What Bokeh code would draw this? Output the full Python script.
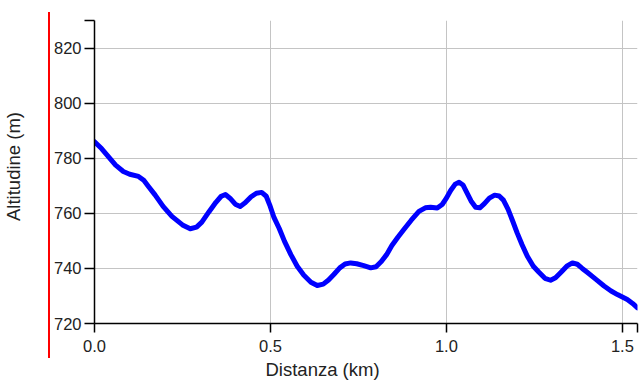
import math
from bokeh.plotting import figure
from bokeh.layouts import row
from bokeh.models import Range1d, FixedTicker, Title, PrintfTickFormatter, Div
from bokeh.core.properties import value
from bokeh.embed import file_html
from bokeh.resources import INLINE

# Elevation profile
distance_km = [0.000, 0.020, 0.040, 0.060, 0.082, 0.100, 0.125, 0.140, 0.155, 0.172,
               0.195, 0.220, 0.250, 0.272, 0.290, 0.305, 0.325, 0.345, 0.360, 0.372,
               0.385, 0.400, 0.414, 0.428, 0.445, 0.460, 0.475, 0.488, 0.498, 0.510,
               0.525, 0.540, 0.558, 0.576, 0.595, 0.615, 0.633, 0.650, 0.665, 0.680,
               0.697, 0.712, 0.728, 0.745, 0.765, 0.785, 0.800, 0.815, 0.830, 0.845,
               0.862, 0.879, 0.900, 0.922, 0.940, 0.955, 0.974, 0.988, 1.000, 1.012,
               1.025, 1.036, 1.047, 1.057, 1.070, 1.083, 1.095, 1.108, 1.122, 1.137,
               1.150, 1.162, 1.175, 1.188, 1.201, 1.215, 1.230, 1.247, 1.263, 1.280,
               1.296, 1.310, 1.325, 1.342, 1.358, 1.372, 1.386, 1.400, 1.425, 1.448,
               1.468, 1.486, 1.500, 1.514, 1.530, 1.543]
altitude_m = [786.0, 783.5, 780.5, 777.5, 775.2, 774.2, 773.4, 772.0, 769.5, 766.7,
              762.5, 758.9, 755.8, 754.4, 755.0, 756.8, 760.5, 764.0, 766.2, 766.8,
              765.5, 763.3, 762.5, 763.8, 766.0, 767.3, 767.6, 766.2, 763.0, 758.5,
              754.5, 749.8, 745.0, 740.8, 737.5, 735.0, 733.8, 734.3, 735.8, 737.8,
              740.2, 741.6, 742.0, 741.7, 741.0, 740.2, 740.6, 742.5, 745.0, 748.3,
              751.3, 754.1, 757.5, 760.7, 762.0, 762.2, 761.9, 763.2, 765.5, 768.3,
              770.6, 771.3, 770.3, 767.8, 764.5, 762.2, 762.0, 763.5, 765.5, 766.6,
              766.3, 764.8, 761.5, 757.3, 752.9, 748.6, 744.4, 740.8, 738.6, 736.4,
              735.7, 736.6, 738.5, 740.8, 742.0, 741.5, 740.0, 738.6, 736.0, 733.6,
              731.8, 730.5, 729.6, 728.7, 727.2, 725.7]

x_ticks = [0.0, 0.5, 1.0, 1.5, 1.543]
x_tick_labels = {1.543: ""}
y_ticks = [720, 740, 760, 780, 800, 820, 830]
y_tick_labels = {830: ""}

FONT = "Liberation Sans"
TXT = "#222222"

# ---- main chart ----
p = figure(width=590, height=384,
           x_range=Range1d(0, 1.543), y_range=Range1d(720, 830),
           output_backend="svg", toolbar_location=None,
           min_border_left=41, min_border_right=3,
           min_border_top=20, min_border_bottom=60)
p.outline_line_color = None

p.line(distance_km, altitude_m, line_color="#0000ff", line_width=5,
       line_join="round", line_cap="round")

p.xaxis.ticker = FixedTicker(ticks=x_ticks)
p.xaxis.formatter = PrintfTickFormatter(format="%.1f")
p.xaxis.major_label_overrides = x_tick_labels
p.yaxis.ticker = FixedTicker(ticks=y_ticks)
p.yaxis.major_label_overrides = y_tick_labels
for ax in (p.xaxis[0], p.yaxis[0]):
    ax.axis_line_color = "black"
    ax.axis_line_width = 1.5
    ax.major_tick_line_color = "black"
    ax.major_tick_line_width = 1.5
    ax.major_tick_in = 0
    ax.minor_tick_line_color = None
    ax.major_label_text_font = FONT
    ax.major_label_text_font_size = "16.5px"
    ax.major_label_text_color = TXT
p.yaxis.major_tick_out = 10
p.xaxis.major_tick_out = 9
p.yaxis.major_label_standoff = 3
p.xaxis.major_label_standoff = 7

p.xgrid.ticker = FixedTicker(ticks=x_ticks)
p.ygrid.ticker = FixedTicker(ticks=y_ticks)
p.grid.grid_line_color = "#c4c4c4"
p.grid.grid_line_width = 1

# x title, placed as in the reference (centred on the page rather than the frame)
p.add_layout(Title(text="Distanza (km)", align="left", offset=171, standoff=7,
                   vertical_align="middle", text_font=FONT, text_font_size="18.5px",
                   text_font_style="normal", text_color=TXT), "below")

# ---- left strip holding the y title (shares the y scale of the chart) ----
left = figure(width=48, height=384, x_range=Range1d(0, 48), y_range=p.y_range,
              output_backend="svg", toolbar_location=None,
              x_axis_location=None, y_axis_location=None,
              min_border=0, min_border_left=0, min_border_right=0,
              min_border_top=20, min_border_bottom=60)
left.outline_line_color = None
left.xgrid.visible = False
left.ygrid.visible = False
left.text(x=[13], y=[777], text=["Altitudine (m)"], angle=math.pi / 2,
          text_align="center", text_baseline="middle",
          text_font=value(FONT), text_font_size="18.5px", text_color=TXT)

# red vertical rule between the title and the tick labels
rule = Div(text="", width=2, height=346, margin=(12, 0, 26, 0),
           styles={"background-color": "#ff0000"})

layout = row(left, rule, p)
open("out.html", "w").write(file_html(layout, INLINE))
